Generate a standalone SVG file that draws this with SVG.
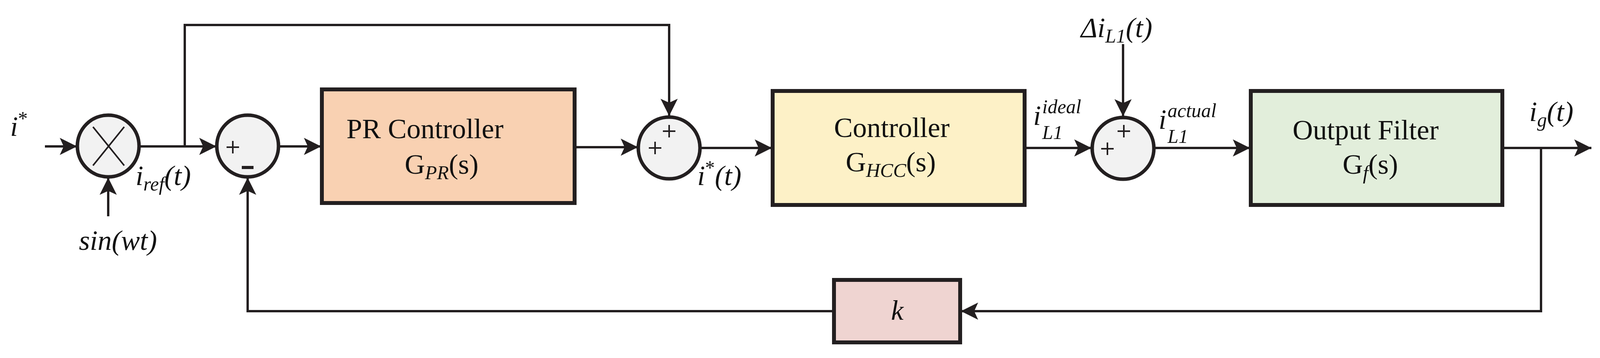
<svg xmlns="http://www.w3.org/2000/svg" width="4102" height="917" viewBox="0 0 4102 917">
<style>
.box{stroke:#231f20;stroke-width:10}
.sum{fill:#f2f2f2;stroke:#231f20;stroke-width:9}
.w{fill:none;stroke:#231f20;stroke-width:6}
.t{font-family:"Liberation Serif",serif;font-size:72px;fill:#111}
.m{font-family:"Liberation Serif",serif;font-style:italic;font-size:72px;fill:#111}
.s{font-size:50px}
.sg{stroke:#231f20;stroke-width:4}
</style>
<defs>
<marker id="a" markerUnits="userSpaceOnUse" markerWidth="50" markerHeight="50" refX="44" refY="22" orient="auto">
<path d="M0,0 L44,22 L0,44 L10,22 Z" fill="#231f20"/>
</marker>
</defs>
<g id="connectors">
<line class="w" x1="115" y1="375" x2="197" y2="375" marker-end="url(#a)"/>
<line class="w" x1="357" y1="375" x2="554" y2="375" marker-end="url(#a)"/>
<polyline class="w" points="473,375 473,64 1713,64 1713,297" marker-end="url(#a)"/>
<line class="w" x1="277" y1="554" x2="277" y2="455" marker-end="url(#a)"/>
<line class="w" x1="714" y1="375" x2="822" y2="375" marker-end="url(#a)"/>
<line class="w" x1="1473" y1="377" x2="1633" y2="377" marker-end="url(#a)"/>
<line class="w" x1="1793" y1="379" x2="1976" y2="379" marker-end="url(#a)"/>
<line class="w" x1="2625" y1="379" x2="2794" y2="379" marker-end="url(#a)"/>
<line class="w" x1="2875" y1="113" x2="2875" y2="298" marker-end="url(#a)"/>
<line class="w" x1="2955" y1="379" x2="3200" y2="379" marker-end="url(#a)"/>
<line class="w" x1="3848" y1="379" x2="4074" y2="379" marker-end="url(#a)"/>
<polyline class="w" points="3945,379 3945,797 2460,797" marker-end="url(#a)"/>
<polyline class="w" points="2135,797 634,797 634,455" marker-end="url(#a)"/>
</g>
<g id="mult">
<circle class="sum" cx="277" cy="374" r="79"/>
<line class="sg" x1="238" y1="325" x2="318" y2="424"/>
<line class="sg" x1="318" y1="325" x2="238" y2="424"/>
</g>
<g id="sum1">
<circle class="sum" cx="634" cy="374" r="79"/>
<line class="sg" x1="580" y1="377" x2="612" y2="377"/><line class="sg" x1="596" y1="361" x2="596" y2="393"/>
<line x1="619" y1="429" x2="649" y2="429" stroke="#231f20" stroke-width="8"/>
</g>
<g id="pr">
<rect class="box" x="824" y="229" width="647" height="291" fill="#f9d1b2"/>
<text class="t" x="887" y="354">PR Controller</text>
<text class="m" x="1036" y="445"><tspan font-style="normal">G</tspan><tspan class="s" dy="14">PR</tspan><tspan dy="-14" font-style="normal">(s)</tspan></text>
</g>
<g id="sum2">
<circle class="sum" cx="1713" cy="379" r="79"/>
<line class="sg" x1="1661" y1="379" x2="1693" y2="379"/><line class="sg" x1="1677" y1="363" x2="1677" y2="395"/>
<line class="sg" x1="1697" y1="336" x2="1729" y2="336"/><line class="sg" x1="1713" y1="320" x2="1713" y2="352"/>
</g>
<g id="hcc">
<rect class="box" x="1978" y="233" width="645" height="292" fill="#fdf1c7"/>
<text class="t" x="2135" y="351">Controller</text>
<text class="m" x="2165" y="439"><tspan font-style="normal">G</tspan><tspan class="s" dy="14">HCC</tspan><tspan dy="-14" font-style="normal">(s)</tspan></text>
</g>
<g id="sum3">
<circle class="sum" cx="2875" cy="380" r="79"/>
<line class="sg" x1="2819" y1="381" x2="2851" y2="381"/><line class="sg" x1="2835" y1="365" x2="2835" y2="397"/>
<line class="sg" x1="2861" y1="336" x2="2893" y2="336"/><line class="sg" x1="2877" y1="320" x2="2877" y2="352"/>
</g>
<g id="filter">
<rect class="box" x="3202" y="233" width="644" height="292" fill="#e2eedb"/>
<text class="t" x="3309" y="357">Output Filter</text>
<text class="m" x="3437" y="445"><tspan font-style="normal">G</tspan><tspan class="s" dy="14">f</tspan><tspan dy="-14" font-style="normal">(s)</tspan></text>
</g>
<g id="k">
<rect class="box" x="2135" y="717" width="323" height="160" fill="#efd4d1"/>
<text class="m" x="2281" y="819">k</text>
</g>
<g id="labels">
<text class="m" x="26" y="348">i<tspan class="s" dy="-28" font-style="normal">*</tspan></text>
<text class="m" x="347" y="474">i<tspan class="s" dy="14">ref</tspan><tspan dy="-14">(t)</tspan></text>
<text class="m" x="202" y="640">sin(wt)</text>
<text class="m" x="1785" y="474">i<tspan class="s" dy="-28" font-style="normal">*</tspan><tspan dy="28">(t)</tspan></text>
<text class="m" x="2767" y="95">Δi<tspan class="s" dy="14">L1</tspan><tspan dy="-14">(t)</tspan></text>
<text class="m" x="2645" y="320">i</text><text class="m s" x="2668" y="290">ideal</text><text class="m s" x="2668" y="356">L1</text>
<text class="m" x="2966" y="330">i</text><text class="m s" x="2989" y="300">actual</text><text class="m s" x="2989" y="366">L1</text>
<text class="m" x="3915" y="310">i<tspan class="s" dy="14">g</tspan><tspan dy="-14">(t)</tspan></text>
</g>
</svg>
